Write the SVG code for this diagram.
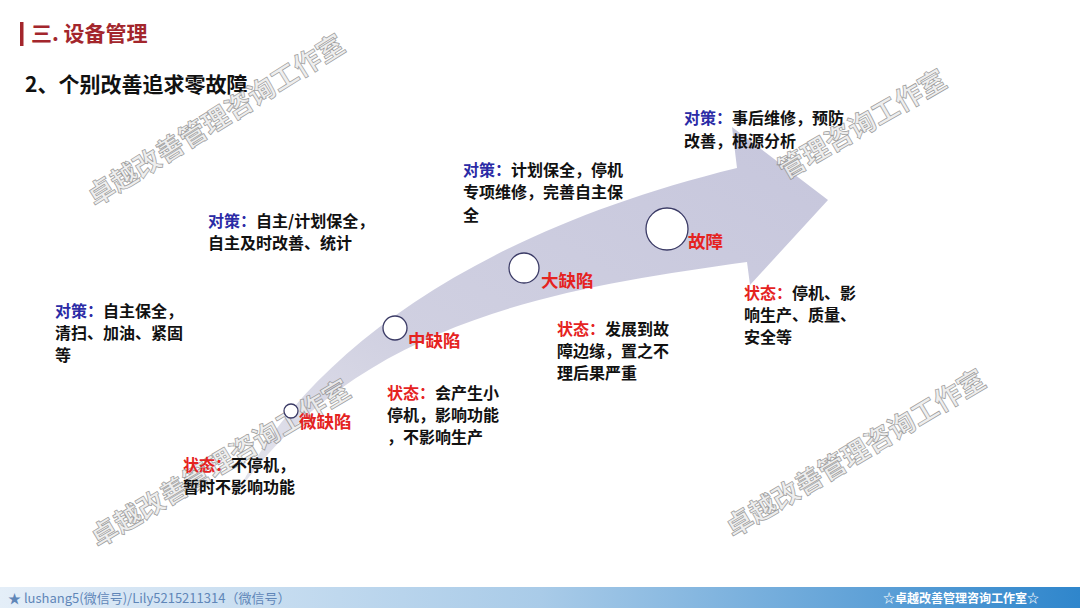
<svg xmlns="http://www.w3.org/2000/svg" width="1080" height="608" viewBox="0 0 1080 608">
<defs>
<linearGradient id="band" x1="0" y1="1" x2="1" y2="0">
<stop offset="0" stop-color="#e4e4ec"/>
<stop offset="0.35" stop-color="#d0d0e1"/>
<stop offset="1" stop-color="#c6c6dc"/>
</linearGradient>
<linearGradient id="foot" x1="0" y1="0" x2="1" y2="0">
<stop offset="0" stop-color="#e4eef8"/>
<stop offset="0.5" stop-color="#a9cbe8"/>
<stop offset="1" stop-color="#2f86cc"/>
</linearGradient>
<style>
text{font-family:"Noto Sans CJK SC","Liberation Sans",sans-serif;font-weight:bold;}
.t{font-size:16px;fill:#111;}
.b{fill:#2b2ba6;}
.r{fill:#e5231f;}
.d{font-size:17.5px;fill:#e5231f;}
.c{fill:#fff;stroke:#3b3b66;stroke-width:1.3;}
.wm{font-size:27px;fill:#ececec;stroke:#8a8a8a;stroke-width:0.7;opacity:0.85;}
</style>
</defs>
<rect width="1080" height="608" fill="#fff"/>
<rect x="20" y="22" width="3.5" height="24" fill="#a3262c"/>
<text x="31" y="41" font-size="21" fill="#a3262c">三. 设备管理</text>
<text x="25" y="92" font-size="21" fill="#111">2、个别改善追求零故障</text>

<g id="arrow">
<path d="M238,492 C295,372 450,238 737,168 L732,127 L828,200 L750,285 L747,262 C560,288 360,320 238,492 Z" fill="url(#band)"/>
</g>

<g id="watermarks">
<text class="wm" transform="translate(95,207) rotate(-32)">卓越改善管理咨询工作室</text>
<text class="wm" transform="translate(785,180) rotate(-30)">管理咨询工作室</text>
<text class="wm" transform="translate(98,548) rotate(-31)">卓越改善管理咨询工作室</text>
<text class="wm" transform="translate(733,538) rotate(-31)">卓越改善管理咨询工作室</text>
</g>

<g id="n1">
<circle class="c" cx="291" cy="411" r="7"/>
<text class="d" x="299" y="428">微缺陷</text>
</g>
<g id="n2">
<circle class="c" cx="395" cy="328" r="12"/>
<text class="d" x="408" y="347">中缺陷</text>
</g>
<g id="n3">
<circle class="c" cx="524" cy="268" r="15"/>
<text class="d" x="541" y="287">大缺陷</text>
</g>
<g id="n4">
<circle class="c" cx="667" cy="229" r="21"/>
<text class="d" x="688" y="248">故障</text>
</g>

<g id="m1">
<text class="t" x="55" y="317"><tspan class="b">对策：</tspan>自主保全，</text>
<text class="t" x="55" y="339">清扫、加油、紧固</text>
<text class="t" x="55" y="361">等</text>
</g>
<g id="m2">
<text class="t" x="208" y="227"><tspan class="b">对策：</tspan>自主/计划保全，</text>
<text class="t" x="208" y="249">自主及时改善、统计</text>
</g>
<g id="m3">
<text class="t" x="463" y="176"><tspan class="b">对策：</tspan>计划保全，停机</text>
<text class="t" x="463" y="198">专项维修，完善自主保</text>
<text class="t" x="463" y="221">全</text>
</g>
<g id="m4">
<text class="t" x="684" y="124"><tspan class="b">对策：</tspan>事后维修，预防</text>
<text class="t" x="684" y="147">改善，根源分析</text>
</g>

<g id="s1">
<text class="t" x="183" y="471"><tspan class="r">状态：</tspan>不停机，</text>
<text class="t" x="183" y="493">暂时不影响功能</text>
</g>
<g id="s2">
<text class="t" x="387" y="399"><tspan class="r">状态：</tspan>会产生小</text>
<text class="t" x="387" y="421">停机，影响功能</text>
<text class="t" x="387" y="443">，不影响生产</text>
</g>
<g id="s3">
<text class="t" x="557" y="335"><tspan class="r">状态：</tspan>发展到故</text>
<text class="t" x="557" y="357">障边缘，置之不</text>
<text class="t" x="557" y="379">理后果严重</text>
</g>
<g id="s4">
<text class="t" x="744" y="299"><tspan class="r">状态：</tspan>停机、影</text>
<text class="t" x="744" y="321">响生产、质量、</text>
<text class="t" x="744" y="343">安全等</text>
</g>

<g id="footer">
<rect x="0" y="587" width="1080" height="21" fill="url(#foot)"/>
<text x="8" y="603" font-size="13" style="font-weight:normal" fill="#5f86b8">★ lushang5(微信号)/Lily5215211314（微信号）</text>
<text x="883" y="603" font-size="12" fill="#fff">☆卓越改善管理咨询工作室☆</text>
</g>
</svg>
